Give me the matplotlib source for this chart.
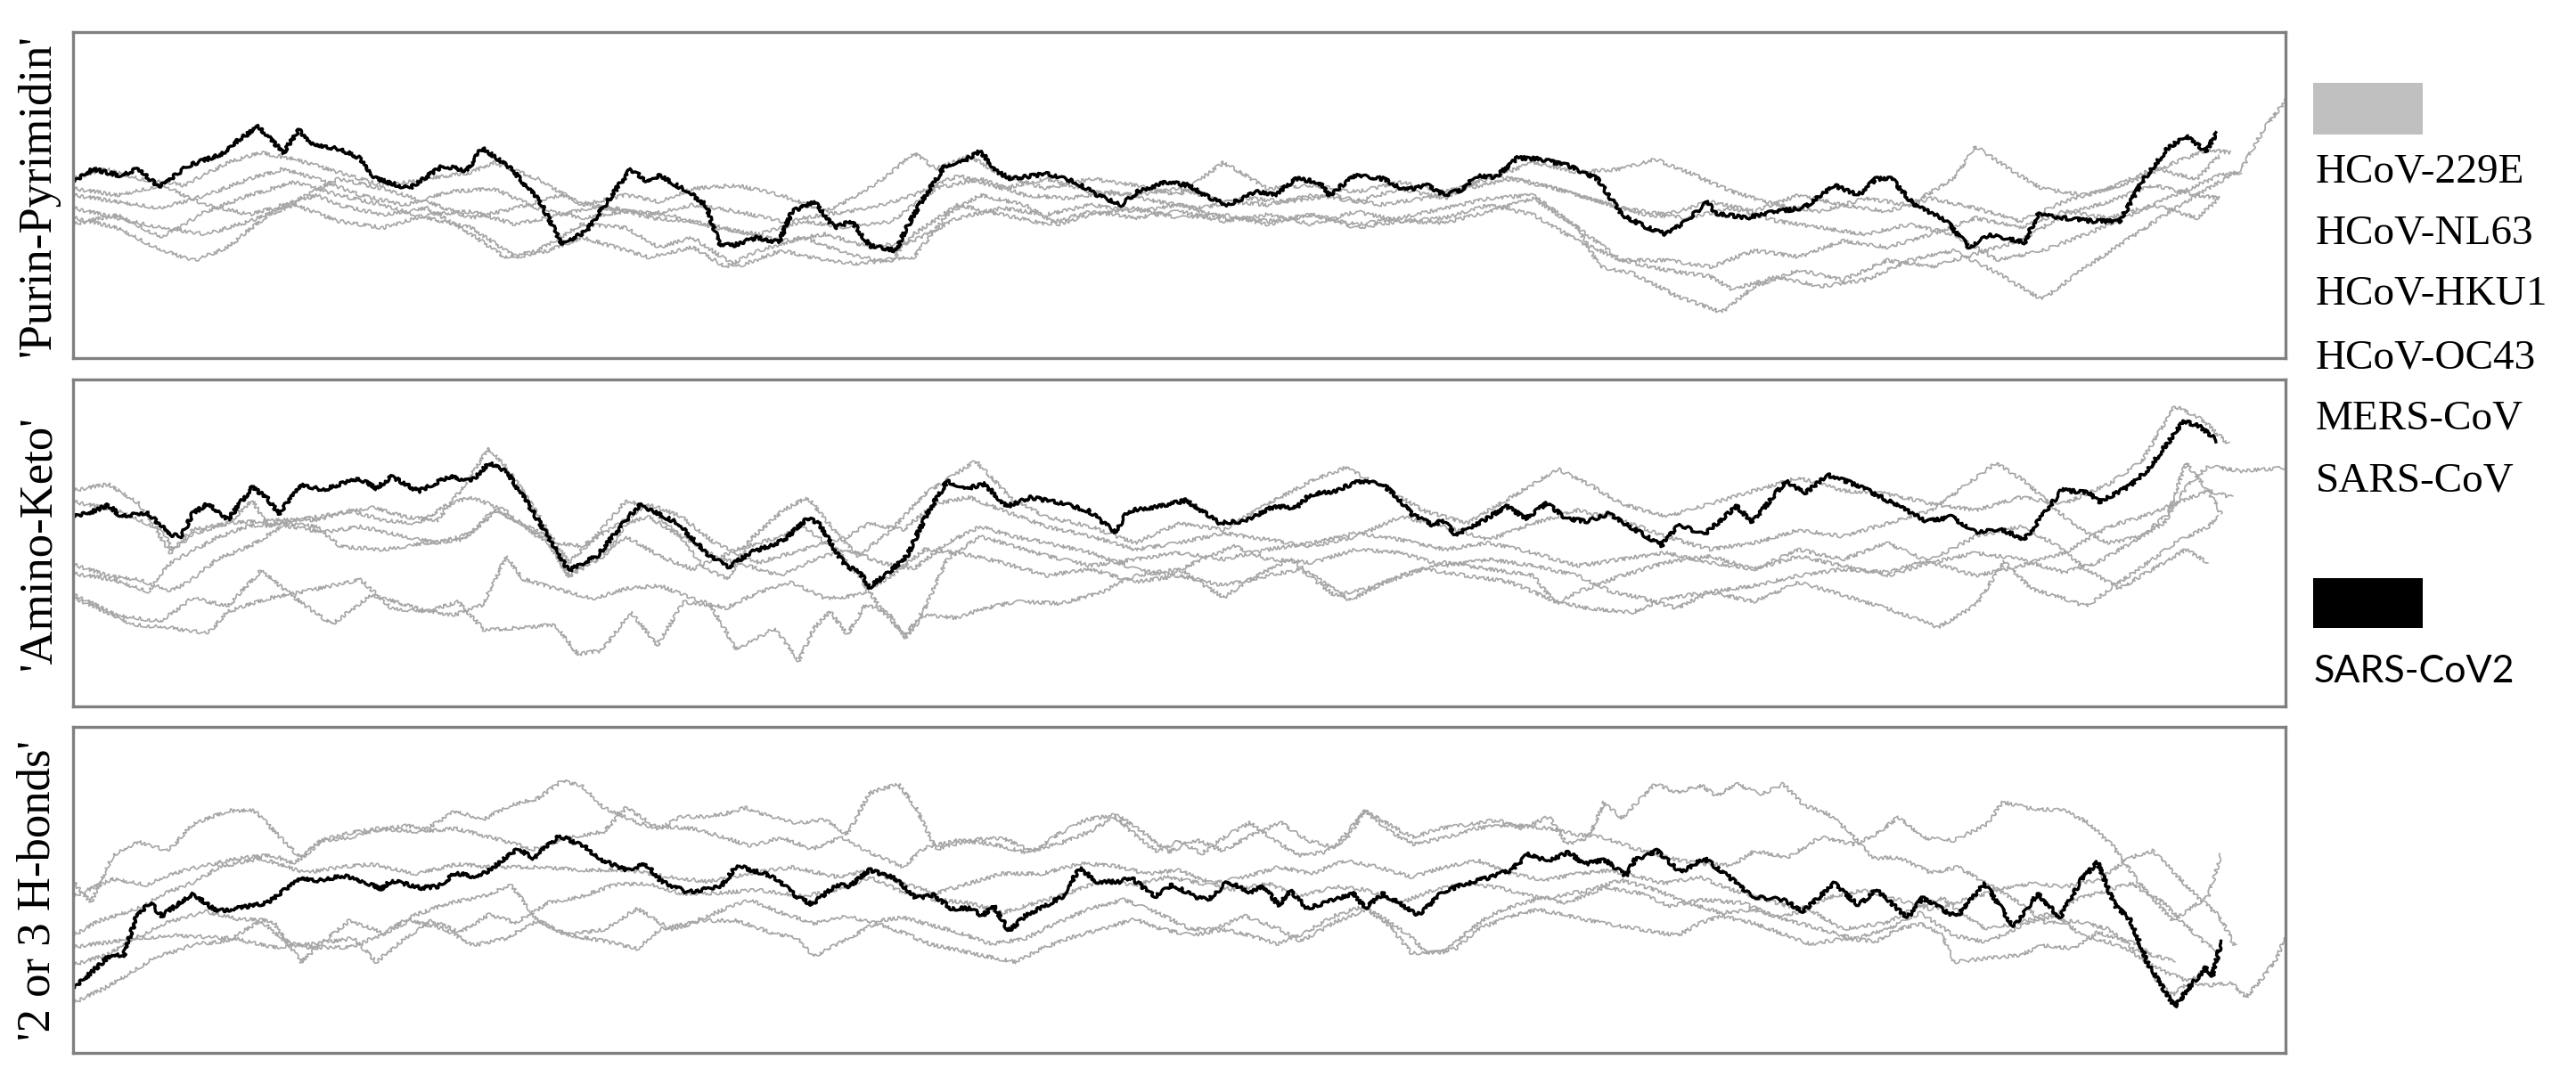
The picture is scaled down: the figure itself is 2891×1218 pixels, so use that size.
import matplotlib
matplotlib.use("Agg")
import matplotlib.pyplot as plt
from matplotlib.patches import Rectangle

# x = position along genome (% of panel width), y = walk value (% of panel height)
# --- 'Purin-Pyrimidin' ---
pp_229e = [(0,43),(2,40),(4,33),(5.5,30),(7,34),(9,45),(11,50),(12,47),(14,44),(16,46),(18,38),(19.5,31),(21,33),(23,41),(25,40),(26.5,34),(28,37),(30,28),(32,33),(34,30),(35.5,29),(37,30),(38,38),(40,47),(42,44),(44,41),(46,45),(48,43),(50,45),(52,42),(54,44),(56,41),(58,45),(60,42),(62,41.5),(64,45),(66,49),(68,40),(70,30),(72,27),(74,25),(75,21),(77,25),(79,22),(81,24),(83,30),(85,33),(87,26),(89,18),(91,28),(93,37),(95,46),(96.5,52),(98,58),(99,70),(100,79)]
pp_nl63 = [(0,41),(2,44),(4,37),(6,45),(8,50),(10,54),(12,50),(14,47),(16,43),(18,40),(20,31),(21.5,33),(23,37),(24.5,34),(26,31),(28,34),(29.5,28),(31,33),(33,37),(35,32),(36.5,30),(38,31),(39.5,44),(41,50),(43,47),(44.5,41),(46,44),(48,46),(50,43),(52,44),(54,41),(56,44),(58,41),(60,43),(62,46),(64,49),(66,50),(68,40),(69,28),(70.5,26),(72.5,19),(74.5,14),(76,22),(78,27),(80,24),(82,30),(84,28),(86,32),(88,36),(90,44),(92,48),(94,53),(96,50),(97,49)]
pp_hku1 = [(0,55),(1.5,58),(3,55),(5,53),(7,60),(8.5,63),(10,61),(12,57),(14,53),(16,55),(18,57),(19,60),(21,55),(23,47),(25,50),(26.5,48),(28,52),(30,53),(32,50),(34,45),(35.5,50),(37,57),(38,63),(39,58),(40.5,62),(42,56),(44,52),(46,55),(48,53),(50,50),(52,60),(54,52),(56,53),(58,51),(60,54),(62,51),(64,55),(66,60),(68,57),(70,58),(71.5,61),(73,57),(75,51),(77,47),(79,45),(81,49),(83,47),(85,55),(86,65),(87.5,58),(89,52),(91,50),(93,54),(95,60),(96.5,64),(97.5,63)]
pp_oc43 = [(0,50),(2,48),(4,46),(6,50),(8,55),(9.5,58),(11,55),(13,50),(15,47),(17,51),(19,52),(21,46),(23,43),(25,45),(27,44),(29,40),(31,38),(33,42),(35,40),(37,42),(39,52),(41,55),(43,50),(45,49),(47,51),(49,48),(51,46),(53,49),(55,48),(57,50),(59,47),(61,49),(63,52),(65,55),(67,52),(69,48),(71,44),(73,43),(75,46),(77,42),(79,40),(81,38),(83,41),(85,38),(87,30),(89,33),(91,38),(93,44),(95,50),(97,56),(98,57)]
pp_mers = [(0,46),(2,43),(4,40),(6,38),(8,42),(10,47),(12,42),(14,40),(16,44),(18,45),(20,41),(22,44),(24,47),(26,43),(28,42),(30,39),(32,36),(34,38),(36,34),(38,36),(40,43),(42,46),(44,44),(46,47),(48,45),(50,47),(52,43),(54,42),(56,44),(58,40),(60,42),(62,43),(64,47),(66,44),(68,36),(70,30),(72,30),(74,28),(76,33),(78,31),(80,36),(82,34),(84,38),(86,43),(88,40),(90,45),(92,43),(94,47),(96,43),(97,49)]
pp_sars = [(0,52),(2,50),(4,53),(6,47),(8,44),(10,48),(12,55),(14,52),(16,48),(18,43),(20,46),(22,50),(24,46),(26,44),(28,47),(30,45),(32,42),(34,44),(36,46),(38,50),(40,56),(42,52),(44,55),(46,51),(48,50),(50,52),(52,48),(54,47),(56,50),(58,48),(60,52),(62,49),(64,56),(66,54),(68,50),(70,46),(72,44),(74,48),(76,45),(78,50),(80,47),(82,45),(84,49),(86,46),(88,42),(90,48),(92,52),(94,58),(96,55),(97,62)]
pp_sars2 = [(0,54),(0.9,58),(2.1,56),(2.9,58),(3.9,52.5),(5.2,59),(6.7,62.5),(7.5,67),(8.4,71),(9.5,63),(10.2,70),(10.7,66),(12.1,64),(12.9,61.5),(13.7,55),(15.2,52),(16.7,59),(17.8,57.5),(18.5,64.5),(19.8,58),(21.1,48),(22.1,35),(23.2,39),(25.2,58),(26,54),(26.5,56),(27.8,51),(28.6,47),(29.2,35),(29.8,34.5),(30.9,37),(31.9,35.5),(32.5,45),(33.5,48),(34.4,40),(35.2,42),(36,34.5),(37.2,33),(37.6,39),(38.3,47.5),(39.4,59),(40.4,61),(41,63.5),(41.8,57),(42.4,55),(44,56.5),(45.3,54),(46.3,50),(47.4,47),(48.1,51),(49.4,54),(50.4,53),(51.4,49),(52.2,47),(53.5,51),(54.3,50),(55.3,55),(56.3,54),(56.8,50),(57.9,56),(59.2,55),(60.2,51.5),(61.2,53),(62,50),(62.7,51.5),(63.5,56),(64.3,55.5),(65.3,61.5),(66.3,61),(67.6,59),(68.9,55),(70,44),(71,40.5),(72,38),(72.8,41.5),(73.9,48),(74.2,44.5),(75.6,43),(77,45),(78.2,46),(79.6,53),(80.7,50),(81.5,55),(82.2,55),(83.2,47),(84.6,42.5),(85.7,34),(86.6,38),(88.2,35.5),(88.8,44),(89.9,43),(91.3,42),(92.5,42),(93.6,55),(94.7,64.5),(95.5,68),(96.4,63.5),(96.9,69)]

# --- 'Amino-Keto' ---
ak_229e = [(0,66),(1.6,68),(3,62),(4.4,47),(5.4,54),(7,56),(8.1,63),(8.8,55),(10,57),(12,59),(13.5,61),(15,58),(16.5,57),(17.5,66),(18.8,79),(19.6,73),(21,59),(22.4,44),(23.5,51),(25,63),(26,61),(27.3,53),(28.6,42),(29.6,39),(30.6,51),(32.1,60),(33.2,64),(34.5,53),(35.5,46),(37,54),(38.5,65),(40.8,75),(42.5,63),(44,58),(46,55),(48,50),(50,56),(52,54),(54,62),(56,69),(57.5,73),(59,68),(61,60),(63,56),(65,64),(67.1,72.6),(68.5,68),(70,62),(72,58),(74,62),(76,66),(78,70),(80,66),(82,65),(84,62),(86,60),(88,64),(90,62),(92,68),(93.5,75),(95,91.8),(96.2,88),(97.4,80.4)]
ak_nl63 = [(0,62.6),(2,60),(4,54),(4.5,47.9),(5.5,53),(7,56),(9,57),(11,57),(12.5,60),(14,57),(15.6,56),(17,62),(18,64),(19.5,60),(21,52),(22,50),(23,49),(24.5,55),(26,62),(27.5,58),(29,50),(31,44),(33,48),(35,52),(36,56),(37.5,54),(39,62),(40.5,64),(42,60),(44,55),(46,52),(48,48),(50,50),(52,53),(54,51),(56,49),(58,52),(60,58),(62,55),(64,51),(66,56),(68,60),(70,57),(72,52),(74,48),(76,50),(78,54),(80,52),(82,56),(84,60),(86.9,74.4),(88.2,69),(90.5,55),(92,50),(93.5,52),(94.7,59),(95.5,74.5),(96.5,66),(97.1,58.9)]
ak_hku1 = [(0,43.4),(1.6,40),(3,38.8),(4.4,35.2),(5.4,39),(6.5,45),(8,49),(9.5,55.3),(11.3,53.3),(13,55),(15,52),(16.5,50),(18,53),(19,60),(20,57),(21.5,52),(22.4,39.7),(23.5,45),(25,52),(26.5,46),(28,42),(30,48),(32,52),(33,55),(34.5,48),(35.5,40),(36.5,30),(37.6,21.5),(38.5,30),(39.5,45),(41,52),(42.5,49),(44,46.1),(46,43),(48,45),(50,47),(52,45),(54,48),(56,50),(58,53),(60,51),(62,48),(64,50),(66,47),(68,43),(70,45),(72,47),(74,44),(76,42),(78,46),(80,43),(82,40),(84,44),(86,47),(88,45),(90,41),(91.5,44),(93,50),(94.5,56),(95.5,67),(96.5,73.5),(98,72),(100,73)]
ak_oc43 = [(0,33.3),(1.8,28),(2.7,25.1),(4.4,24),(6.1,22.4),(7,29),(8.8,33),(10.5,35.2),(13,38.8),(14.4,30),(16,29),(17.4,32),(18.6,23.3),(20,24),(21.8,25),(22.8,16),(23.9,17),(25.2,29),(26.4,18.7),(27.6,32),(28.8,31),(30,17.3),(31.7,24),(32.8,14),(33.5,24),(34.2,29),(35,22),(35.8,31),(36.8,29),(37.6,21),(38.5,28),(40,27),(41,29.7),(42.6,32),(44.7,31.5),(46.5,35),(48,40),(50,42),(52,33.3),(53.5,40),(55,45),(57.7,32.4),(59,37),(61,42),(63,40),(65,38),(67,32),(68.5,30),(70.5,28.8),(72,33),(74,35),(76,32),(78,38),(80,34),(82,30),(84.3,24.2),(86,31),(87.3,44.3),(88.5,36),(90,33),(91,30.6),(92.5,38),(94,45),(95,50),(96.5,55),(97,58)]
ak_mers = [(0,34.2),(2,27.9),(4,26),(5.4,33.3),(7,30.6),(8.5,41.6),(10,33.3),(11.7,25.1),(13.5,34.2),(15.7,29.7),(17.2,27.9),(18.5,31),(19.6,46.1),(20.3,39),(21.8,36),(23.5,33),(25,36),(26.5,37),(28,33),(29.5,30),(31,35),(32.5,38),(34,33),(35.5,34),(37,40),(38.5,48),(40,47),(42,44),(44,40),(46,42),(48,38),(50,40),(52,37),(54,40),(55.5,42),(57,34),(58.5,36),(60,40),(62,44),(64,42),(66,40),(67,31.5),(68,35),(70,40),(72,44),(74,46),(76,42),(78,48),(80,45),(82,50),(84,44),(86,40),(88,43),(90,47),(92,55),(93.5,58),(95,62),(96.5,66),(97.6,64)]
ak_sars = [(0,40.6),(1.8,38.8),(3.4,35.2),(4.4,44),(6.5,51.6),(8,55.3),(9.5,56),(11,55),(12.1,48.9),(14,48),(16,50),(17.6,51),(19.2,60),(20.2,56),(21.5,50),(22.4,39.7),(24,46),(25,56),(26,58),(27.5,52),(29,46),(30.5,43),(32,40),(33.5,45),(35,48),(36.5,44),(38,42),(39.5,50),(41,55),(42.5,52),(44,50),(46,47),(48,42),(49.5,40),(51,45),(52.5,49),(54,45),(56,44),(58,48),(60,47),(62,43),(64,45),(66,43),(68,40),(69.5,35.2),(71,33),(72.5,30),(74,35),(76,37),(78,40),(80,42),(82,41),(84,45),(86,52),(88,55),(89.5,50),(91,42),(92.5,36),(94,42),(95.5,48),(96.5,44)]
ak_sars2 = [(0,58),(0.8,59.4),(1.6,61.6),(2.1,58.4),(3.4,58.9),(4.4,52.5),(4.9,52.1),(5.4,58.9),(6.1,62.1),(7,57.1),(8.1,67.1),(8.8,63.5),(9.3,58.9),(10.3,68),(11.3,66.2),(12.1,68),(12.9,69.9),(13.7,66.7),(14.4,70.3),(15.6,65.8),(17,70.3),(18,68.9),(18.8,74.4),(19.6,71.7),(20.6,61.6),(22.4,41.6),(23.7,46.1),(25,57.1),(25.6,61.6),(27.3,56.2),(28.6,47),(29.6,42.5),(30.6,47),(32.1,50.7),(33.2,57.5),(33.7,56.2),(34.5,47),(35,42.5),(35.5,41.6),(36,36.5),(36.8,40.6),(37.7,46.1),(38.6,58.9),(39.5,68.9),(40.4,66.7),(41.2,68),(42.2,61.2),(43.3,63.9),(44.7,62.1),(45.9,59.8),(47.1,53.4),(47.7,59.8),(49.1,61.2),(50.3,63),(51.8,56.2),(53,56.6),(54.3,61.2),(55.3,60.7),(55.9,64.8),(57,65.8),(58.1,68.9),(59.2,68),(59.9,63.5),(60.5,58.9),(61.5,55.3),(61.9,57.1),(62.5,52.5),(63.8,57.1),(64.8,61.2),(65.7,57.5),(66.6,62.1),(67.5,57.5),(68.4,56.6),(69.4,58.9),(70.3,55.3),(71.8,49.3),(72.6,55.7),(73.7,52.5),(75.2,61.2),(75.9,56.2),(77.4,68.9),(78.3,65.3),(79.3,70.8),(80.3,68.5),(81.2,65.8),(82.4,61.6),(83.8,56.6),(84.9,58),(86,53.4),(87.1,54.3),(88.2,51.1),(89.9,66.2),(91.1,65.3),(91.6,62.6),(93,67.6),(93.8,72.6),(95.4,87.2),(96.1,85.8),(96.9,81.3)]

# --- '2 or 3 H-bonds' ---
hb_229e = [(0,52.5),(0.8,46.1),(1.8,60.7),(3,64.7),(4.3,62),(5.4,70),(7,74.3),(8.2,74.3),(9.5,65.2),(10.3,59.7),(11.3,65.2),(12.5,66.1),(13.5,68),(15,69.7),(16,68.8),(17.3,74.3),(18.5,71.5),(19.8,76.1),(21,78),(22.1,83.4),(23,82),(24,75.2),(25.5,70.6),(26.5,68.8),(27.5,72.5),(28.5,72.5),(29.5,73.4),(30.4,75.2),(31.5,72.5),(32.7,70.6),(34,71.5),(35,67),(36,79.7),(37.3,82.5),(38.1,75.2),(39,62.5),(40.5,65.2),(42,66),(43.4,61.6),(44.5,67),(45.8,71.5),(47,72.9),(48,67),(49,61.6),(50,65.2),(51,61),(52.2,67),(53.2,70.6),(54.3,65.2),(55.4,60.6),(56.6,61.6),(57.6,66),(58.4,74.3),(59.5,70),(60.6,66),(61.7,68.8),(63,70),(64.4,71.5),(65.5,68.8),(66.7,72.5),(67.5,64),(68.5,66),(69.2,77),(70,72),(71.5,82.5),(72.5,80),(73.6,82),(74.3,78.8),(75.2,82.5),(76.3,79.3),(77.3,82.5),(78.2,76.1),(79.3,73.4),(80.3,67.9),(81.3,59.7),(82.5,60),(84,55.2),(85.2,57),(86.5,52),(88,46),(89.2,39.7),(90.5,40.5),(92,38),(93.5,30),(94.2,22),(94.9,17.7),(95.5,21),(96.5,20.7),(97.6,21.5),(98.2,17),(99,23.4),(99.6,28.8),(100,36)]
hb_nl63 = [(0,47.9),(1.8,53.4),(3.3,51.6),(5,56.1),(6,57.5),(7.5,59.7),(9,60.7),(10,58),(11.2,65.2),(12.5,67.5),(13.7,68.8),(15.7,67.9),(17.3,68.8),(18.9,66.1),(20.8,62.5),(22.4,66.1),(24,67.9),(25,75.2),(26.3,69.7),(28,68.8),(29.5,66),(30.6,63.4),(32,66.1),(33.4,62.5),(34.7,66.1),(36,61.6),(37.5,57),(38.5,63),(40,65.2),(41.6,64),(43,61.6),(44.5,64),(46,68),(47.2,72.9),(48.5,67),(49.5,61.6),(50.8,65.2),(52,62),(53.3,67),(54.6,70.6),(55.8,65.2),(57,63),(58.4,74.3),(59.5,68),(60.6,64),(62,66),(63.5,69),(65,70),(66.5,69),(68,67),(69.2,66),(70.5,63),(72,60),(73.5,58),(75,57.5),(76,62),(77.5,60),(79,66.2),(80.5,64),(81.6,67.5),(82.5,72.4),(83.6,66),(85,65.2),(86.5,70),(87.2,77),(88.5,75),(90,74.3),(91.1,70.6),(92.2,63.4),(93.4,52),(94.9,40.6),(95.7,44.3),(96.5,48),(97.1,61)]
hb_hku1 = [(0,36),(1.2,40.6),(2.9,44.3),(4.4,49.7),(5.5,52.5),(6.6,57),(8.5,59.7),(10.5,55.2),(12,57),(13.5,57.9),(15.5,55),(17.4,57.9),(19,57),(21.2,57),(23,56.1),(25,56.1),(27,54),(28.7,52.5),(30.5,55),(32.5,57),(34.5,54),(36,56),(37.5,52),(39,49),(40.5,52),(42,55),(43.8,55),(45.5,58),(47,57.5),(48.5,55),(50,56),(51.5,52),(53,54),(54.5,57),(56,55),(57.5,59),(59,57),(60.5,54),(62,57),(63.5,59),(65,55),(66.5,53),(68,55),(69.5,56),(70.5,54.3),(72,52),(73.5,54),(75,50),(76.5,47),(78,44),(79.5,48),(81,50),(82.5,47),(84,44),(85.5,47),(87,50),(88.5,52),(90,51),(91.5,53),(93,60),(94,62),(95,55),(96,48),(97,42),(97.7,33)]
hb_oc43 = [(0,32.4),(2.8,35.2),(4.8,36),(7.2,35.2),(9,32.4),(11,33.5),(12.7,35.2),(13.7,27.9),(15,35.2),(16.2,40.6),(17.5,37),(18.8,42.4),(20,40),(21.5,46.1),(23,48),(24.5,51.6),(26,52),(27.5,48.8),(29,49),(31,50),(33,48),(35,50.7),(36,54),(37.5,49.3),(39,47),(40.5,46),(42,43),(43.5,46),(45,49),(46.5,53),(48,51.5),(49.5,54),(51,52),(52.5,50),(54,52),(55.5,48),(57,51),(58.5,50),(60,46),(61.5,50),(63,52),(64.5,50.6),(66,48),(67.5,46),(69.2,50.7),(70.8,49),(72.2,45),(73.5,47),(75.5,46),(77,41.5),(78.5,44),(80,38),(82,40),(83.4,45),(84.5,47.5),(85.5,42),(86.5,38),(88,40),(89.5,43),(90.8,36),(92,34),(93,31),(94.5,25),(95.6,22),(96.5,26)]
hb_mers = [(0,15.3),(1.4,19.8),(2.3,23.4),(3.6,28.9),(5.5,33.4),(7,34.3),(8.5,40.6),(9.5,34.5),(10.5,32.4),(12.5,32.4),(13.9,36.1),(15.2,40.6),(16.8,38),(18.1,33),(19.5,35),(21,40.6),(22.5,36),(24,34.3),(25.5,32),(26.5,37.9),(28,40),(29.5,44.3),(30.6,47),(32,43),(33.5,39.7),(35,42),(36.3,39.7),(37.5,37),(38.7,33.4),(40,31.5),(41,30),(42.6,27.9),(43.8,32),(45,35.2),(46.5,38),(48,41),(49.2,38),(50.6,36),(52,37.9),(53.2,36),(54.5,33.4),(55.7,37),(57,42),(58.3,45),(59.3,41),(60.4,36),(61.2,30.6),(62.5,32),(63.5,38),(65,42),(66.2,44),(67.6,42),(69.2,39.7),(70.8,38),(72.5,36),(73.5,39.7),(74.5,42),(76,39.7),(77.5,36),(78.5,33.4),(80,35),(81.5,34.3),(82.5,38),(83.5,39.7),(84.5,36),(85,27.9),(86.5,29),(88,30),(89,33),(90.5,32),(91.5,37),(93,34),(94,30),(95,28)]
hb_sars = [(0,27),(1.5,30),(3,36),(4.5,40.6),(6,43.4),(7.5,41),(9,40.6),(10.3,27.9),(11.5,35.2),(12.5,40.6),(14,37),(15.5,42.4),(17,46),(18.5,47.9),(19.8,51.6),(21,40.6),(22.3,36.1),(24,37.9),(25.5,44.3),(27,37.9),(28.5,40.6),(30,40.6),(31.5,37),(32.7,35.2),(33.5,29.7),(35,35),(36.5,40.6),(37.5,41.6),(38.5,39.7),(40,37),(41.5,33.4),(43,35),(44.5,40),(46,44.3),(47.5,47),(49,43),(50.5,38),(51.5,37.9),(53,42),(54.5,38),(55.5,34.3),(57,40),(58.5,44),(59.5,39),(60.5,30.6),(62,31),(63,37),(64,42),(65.5,46),(67,48),(68.5,50),(70,53),(71.5,50),(73,46),(74.5,43),(76,44),(77.6,40.5),(79,38),(80.5,35),(82,37.9),(83.5,43),(85,36),(86.5,34),(88,38.8),(89.5,42),(90.5,47),(92,50),(93,52),(94.5,46),(95.5,39),(96.5,33),(97,31)]
hb_sars2 = [(0,19.7),(1.2,27),(1.7,30.1),(2.3,30.1),(2.9,42.4),(3.5,46.1),(4,42),(5.4,48.8),(6.5,43.4),(7.7,44.7),(8.8,46.1),(9.5,49.7),(10.3,53.8),(11.1,52.9),(12.2,54.3),(13.2,52.5),(13.9,50.2),(14.4,52.9),(15.7,50.6),(16.5,51.1),(17.3,55.2),(18.3,53.8),(19.1,57.5),(20.1,62.5),(20.8,59.8),(22,66.6),(23.2,63),(23.7,59.8),(25,56.1),(25.9,57.9),(26.6,52.5),(27.8,49.3),(29.3,51.1),(30,57.5),(31.3,54.8),(31.8,53.4),(32.7,47.9),(33.4,45.6),(34.5,51.6),(35.1,51.1),(36,56.1),(37.1,53.8),(38.1,47.5),(38.9,48.4),(39.7,44.3),(40.6,44.3),(41.1,42),(41.6,45.2),(42.3,37.4),(43.1,42.4),(43.7,44.3),(44.7,47.9),(45.5,56.6),(46.3,52.5),(47.3,52.5),(47.8,53.8),(48.9,47.9),(49.7,51.6),(50.7,47.9),(51.3,47),(52.2,52.5),(53.2,49.3),(53.8,51.1),(54.5,45.2),(55,49.7),(55.8,44.3),(56.6,46.1),(57.9,48.8),(58.4,44.3),(59.2,48.8),(59.9,46.1),(60.8,42.4),(61.4,46.1),(61.9,49.3),(62.8,51.6),(64,53.8),(65,56.1),(65.8,61.1),(66.6,58.8),(67.6,61.6),(68.3,57.9),(69.2,59.3),(70.2,54.3),(70.6,59.3),(71.6,62),(72.7,55.2),(73.7,59.8),(74.8,54.3),(75.9,47.9),(77.3,47),(78.2,43.4),(79.6,52),(80.7,45.2),(81.5,50.2),(82.9,41.5),(83.6,47.5),(84.9,42.4),(85.3,42.9),(86.4,52),(87.7,38.8),(88.8,48.8),(89.8,41.5),(90.8,53.4),(91.5,58.4),(92.3,45.2),(93,40.6),(93.8,27),(95,14.2),(95.7,20.6),(96.4,26.1),(96.7,23.8),(97.1,34.3)]

panel_labels = ["'Purin-Pyrimidin'", "'Amino-Keto'", "'2 or 3 H-bonds'"]
gray_names = ["HCoV-229E", "HCoV-NL63", "HCoV-HKU1", "HCoV-OC43", "MERS-CoV", "SARS-CoV"]
black_name = "SARS-CoV2"

panels = [
    ([pp_229e, pp_nl63, pp_hku1, pp_oc43, pp_mers, pp_sars], pp_sars2),
    ([ak_229e, ak_nl63, ak_hku1, ak_oc43, ak_mers, ak_sars], ak_sars2),
    ([hb_229e, hb_nl63, hb_hku1, hb_oc43, hb_mers, hb_sars], hb_sars2),
]

W, H = 2891, 1218
fig = plt.figure(figsize=(W / 100, H / 100), dpi=100)
fig.patch.set_facecolor("white")

# panel boxes in pixels: (top, bottom)
left_px, right_px = 82, 2565
boxes = [(36, 402), (426, 793), (816, 1182)]

for (grays, black), (top, bot), label in zip(panels, boxes, panel_labels):
    ax = fig.add_axes([left_px / W, 1 - bot / H, (right_px - left_px) / W, (bot - top) / H])
    for s in grays:
        xs, ys = zip(*s)
        ln, = ax.plot(xs, ys, color="#a6a6a6", lw=1.2)
        ln.set_sketch_params(scale=2.0, length=7, randomness=12)
    xs, ys = zip(*black)
    ln, = ax.plot(xs, ys, color="black", lw=2.4)
    ln.set_sketch_params(scale=2.0, length=8, randomness=12)
    ax.set_xlim(0, 100)
    ax.set_ylim(0, 100)
    ax.set_xticks([])
    ax.set_yticks([])
    for sp in ax.spines.values():
        sp.set_color("#808080")
        sp.set_linewidth(2.4)
    fig.text(43 / W, 1 - (top + bot) / 2 / H, label, rotation=90, ha="center", va="center",
             family="Liberation Serif", fontsize=38)

# legend on the right
fig.patches.append(Rectangle((2596 / W, 1 - 151 / H), 123 / W, 58 / H, transform=fig.transFigure,
                             facecolor="#c0c0c0", edgecolor="none"))
name_y = [193, 262, 330, 402, 470, 540]
for name, yy in zip(gray_names, name_y):
    fig.text(2599 / W, 1 - yy / H, name, ha="left", va="center", family="Liberation Serif", fontsize=34)
fig.patches.append(Rectangle((2596 / W, 1 - 705 / H), 123 / W, 56 / H, transform=fig.transFigure,
                             facecolor="black", edgecolor="none"))
fig.text(2597 / W, 1 - 754 / H, black_name, ha="left", va="center", family="Lato", fontsize=31)

fig.savefig("out.png", dpi=100, facecolor="white")
